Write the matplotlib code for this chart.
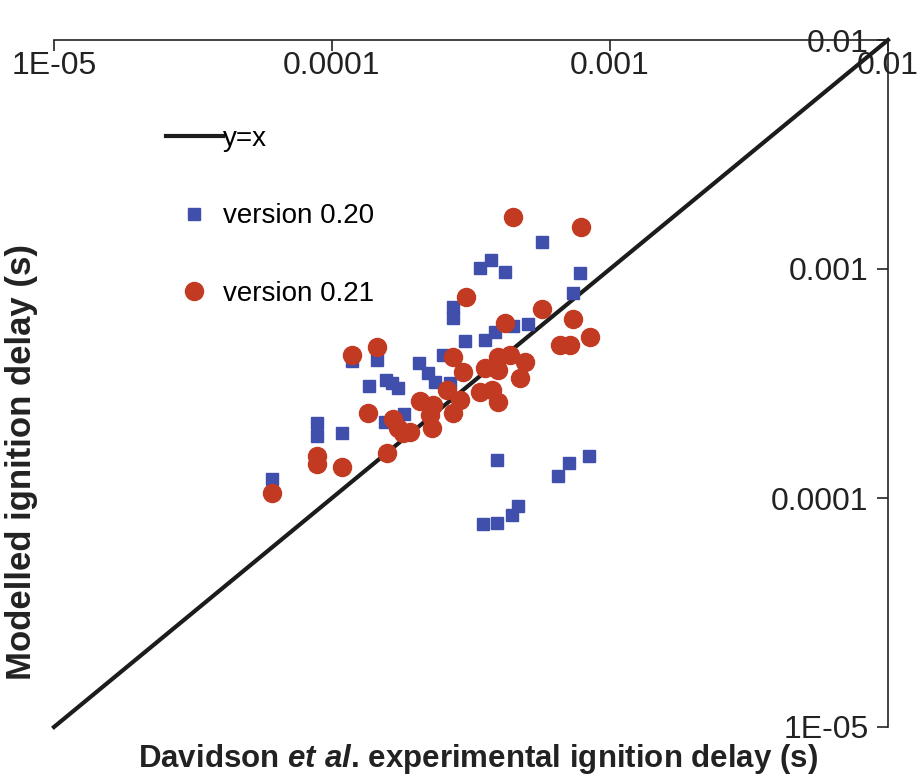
import matplotlib
matplotlib.use("Agg")
import matplotlib.pyplot as plt

plt.rcParams['font.family'] = ['Liberation Sans', 'DejaVu Sans']
plt.rcParams['mathtext.fontset'] = 'custom'
plt.rcParams['mathtext.it'] = 'Liberation Sans:italic:bold'

# y=x reference line
line_x = [1e-5, 1e-2]

# version 0.20 (squares): experimental vs modelled ignition delay (s)
v20_x = [6.1e-5, 8.8e-5, 8.8e-5, 1.09e-4, 1.18e-4, 1.45e-4, 1.36e-4, 1.56e-4,
         1.64e-4, 1.73e-4, 1.55e-4, 1.82e-4, 2.06e-4, 2.21e-4, 2.35e-4, 2.66e-4,
         2.51e-4, 2.73e-4, 2.73e-4, 3.01e-4, 3.55e-4, 3.86e-4, 4.48e-4, 5.07e-4,
         3.41e-4, 3.73e-4, 4.19e-4, 5.69e-4, 7.80e-4, 7.36e-4, 3.92e-4, 3.49e-4,
         3.92e-4, 4.44e-4, 4.67e-4, 6.50e-4, 7.12e-4, 8.40e-4]
v20_y = [1.21e-4, 2.13e-4, 1.87e-4, 1.92e-4, 3.97e-4, 4.00e-4, 3.08e-4, 3.28e-4,
         3.18e-4, 3.02e-4, 2.15e-4, 2.33e-4, 3.89e-4, 3.51e-4, 3.21e-4, 3.18e-4,
         4.21e-4, 6.82e-4, 6.11e-4, 4.85e-4, 4.90e-4, 5.31e-4, 5.64e-4, 5.75e-4,
         1.01e-3, 1.10e-3, 9.70e-4, 1.31e-3, 9.60e-4, 7.85e-4, 1.47e-4, 7.70e-5,
         7.78e-5, 8.43e-5, 9.23e-5, 1.25e-4, 1.42e-4, 1.53e-4]

# version 0.21 (circles)
v21_x = [6.1e-5, 8.8e-5, 8.8e-5, 1.09e-4, 1.18e-4, 1.45e-4, 1.35e-4, 1.58e-4,
         1.66e-4, 1.73e-4, 1.80e-4, 1.91e-4, 2.07e-4, 2.31e-4, 2.25e-4, 2.29e-4,
         2.59e-4, 2.89e-4, 2.73e-4, 2.73e-4, 2.96e-4, 3.55e-4, 3.96e-4, 4.37e-4,
         4.95e-4, 4.75e-4, 3.96e-4, 3.41e-4, 3.76e-4, 3.96e-4, 4.48e-4, 7.87e-4,
         3.03e-4, 5.69e-4, 4.19e-4, 7.36e-4, 6.61e-4, 7.18e-4, 8.47e-4]
v21_y = [1.05e-4, 1.53e-4, 1.41e-4, 1.37e-4, 4.21e-4, 4.57e-4, 2.35e-4, 1.57e-4,
         2.21e-4, 2.02e-4, 1.92e-4, 1.94e-4, 2.65e-4, 2.55e-4, 2.30e-4, 2.02e-4,
         2.96e-4, 2.68e-4, 2.35e-4, 4.13e-4, 3.55e-4, 3.70e-4, 4.13e-4, 4.21e-4,
         3.93e-4, 3.34e-4, 3.62e-4, 2.90e-4, 2.96e-4, 2.63e-4, 1.69e-3, 1.53e-3,
         7.54e-4, 6.69e-4, 5.81e-4, 6.05e-4, 4.66e-4, 4.66e-4, 5.05e-4]

ticks = [1e-5, 1e-4, 1e-3, 1e-2]
tick_labels = ['1E-05', '0.0001', '0.001', '0.01']

blue = '#3f4fab'
red = '#c33a22'

fig = plt.figure(figsize=(9.2, 7.78), dpi=100)
ax = fig.add_axes([54 / 920, 1 - 727 / 778, 834 / 920, 687 / 778])
ax.set_xscale('log')
ax.set_yscale('log')

ax.plot(line_x, line_x, color='#1c1c1c', lw=3, label='y=x', zorder=2, clip_on=False)
ax.plot(v20_x, v20_y, 's', ls='none', ms=8.5, color=blue, label='version 0.20', zorder=3)
ax.plot(v21_x, v21_y, 'o', ls='none', ms=13, color=red, label='version 0.21', zorder=4)

ax.set_xlim(1e-5, 1e-2)
ax.set_ylim(1e-5, 1e-2)

# axes cross at the top right corner, like the Excel original
ax.spines['top'].set_visible(False)
ax.spines['right'].set_visible(False)
ax.spines['bottom'].set_position(('axes', 1.0))
ax.spines['left'].set_position(('axes', 1.0))
for s in ['bottom', 'left']:
    ax.spines[s].set_linewidth(1.2)
    ax.spines[s].set_color('#222222')

ax.set_xticks(ticks)
ax.set_xticklabels(tick_labels)
ax.set_yticks(ticks)
ax.set_yticklabels(tick_labels)
ax.minorticks_off()
ax.tick_params(axis='both', which='major', direction='out', length=8, width=1.2,
               color='#222222', labelsize=23, labelcolor='#222222')
ax.tick_params(axis='x', pad=0)
ax.tick_params(axis='y', pad=6)

ax.legend(loc='upper left', bbox_to_anchor=(152 / 920, 1 - 112 / 778),
          bbox_transform=fig.transFigure, frameon=False, fontsize=20,
          handlelength=2.05, handletextpad=0.0, labelspacing=1.85, borderpad=0)

fig.text(478 / 920, 1 - 759 / 778,
         r"Davidson $\mathit{et\ al}$. experimental ignition delay (s)",
         ha='center', va='center', fontsize=22.5, fontweight='bold', color='#222222')
fig.text(22 / 920, 1 - 462 / 778, "Modelled ignition delay (s)", rotation=90,
         ha='center', va='center', fontsize=25, fontweight='bold', color='#222222')

fig.savefig('out.png', dpi=100)
